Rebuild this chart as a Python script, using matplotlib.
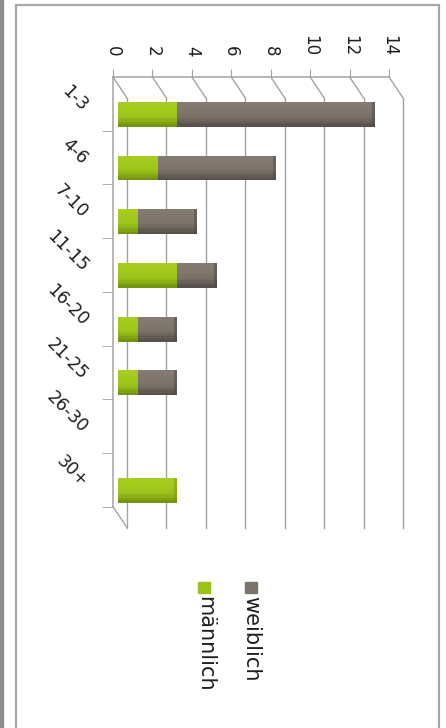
import matplotlib
matplotlib.use("Agg")
import matplotlib.pyplot as plt
from matplotlib.patches import Rectangle
from matplotlib.colors import to_rgb
import numpy as np

# Daten
categories = ["1-3", "4-6", "7-10", "11-15", "16-20", "21-25", "26-30", "30+"]
maennlich = [3, 2, 1, 3, 1, 1, 0, 3]
weiblich = [10, 6, 3, 2, 2, 2, 0, 0]
value_ticks = [0, 2, 4, 6, 8, 10, 12, 14]

W, H = 446, 728
fig = plt.figure(figsize=(W / 100, H / 100), dpi=100)
fig.patch.set_facecolor("white")


def fx(px):
    return px / W


def fy(py):
    return 1 - py / H


# rahmen
fig.patches.append(Rectangle((0, 0), fx(3), 1, transform=fig.transFigure,
                             color="#8c8c8c", zorder=0))
fig.patches.append(Rectangle((fx(16), fy(745)), fx(439 - 16), (745 - 5) / H,
                             transform=fig.transFigure, fill=False,
                             ec="#a8a8a8", lw=1.6, zorder=0))

# geometrie (pseudo 3d)
px_unit = 19.72
px_cat = 53.7
dpx, dpy = 14, 21
dx = dpx / px_unit
dy = dpy / px_cat
n = len(categories)

ax = fig.add_axes([fx(113), fy(77 + n * px_cat + dpy),
                   fx(14 * px_unit + dpx), (n * px_cat + dpy) / H])
ax.set_xlim(0, 14 + dx)
ax.set_ylim(n - 0.5 + dy, -0.5)
for s in ax.spines.values():
    s.set_visible(False)
ax.patch.set_alpha(0)

grid_c = "#a3a3a3"
txt_c = "#1e1e1e"
ax.xaxis.tick_top()
ax.set_xticks(value_ticks)
ax.set_xticklabels([str(v) for v in value_ticks])
ax.tick_params(axis="x", length=6, color=grid_c, pad=9, labelsize=12,
               labelrotation=-90, labelcolor=txt_c)

ax.set_yticks(np.arange(n) + 0.08)
ax.set_yticklabels(categories, rotation=-45, ha="right", va="center",
                   rotation_mode="anchor", fontsize=12.5, color=txt_c)
ax.tick_params(axis="y", which="major", length=0, pad=20)
ax.set_yticks(np.arange(0.5, n, 1), minor=True)
ax.tick_params(axis="y", which="minor", length=8, color=grid_c)

# achsen und gitter
ax.plot([0, 14], [-0.5, -0.5], color=grid_c, lw=1.1, clip_on=False)
ax.plot([0, 0], [-0.5, n - 0.5], color=grid_c, lw=1.1, clip_on=False)
ax.plot([0, dx], [n - 0.5, n - 0.5 + dy], color=grid_c, lw=1, clip_on=False)
for v in value_ticks:
    ax.plot([v, v + dx], [-0.5, -0.5 + dy], color=grid_c, lw=1, clip_on=False)
    ax.plot([v + dx, v + dx], [-0.5 + dy, n - 0.5 + dy], color=grid_c, lw=1,
            clip_on=False)

# balken mit weichem verlauf (oben hell, unten dunkel)
bx = 0.37 * dx
by = 0.37 * dy + 0.05
y = np.arange(n) + by
m = np.array(maennlich)
w = np.array(weiblich)
bh = 0.46
strips = 10

series = [
    (m, bx + 0 * m, "#a9cd22", "#9dc31a", "#6f8d0c"),
    (w, bx + m, "#857d73", "#7a7167", "#514c46"),
]
for vals, left, light, mid, dark in series:
    c_l, c_m, c_d = (np.array(to_rgb(c)) for c in (light, mid, dark))
    for k in range(strips):
        t = (k + 0.5) / strips
        if t < 0.6:
            col = c_l + (c_m - c_l) * (t / 0.6)
        else:
            col = c_m + (c_d - c_m) * ((t - 0.6) / 0.4)
        off = -bh / 2 + bh * (k + 0.5) / strips
        ax.barh(y + off, vals, height=bh / strips * 1.05, left=left,
                color=tuple(col), zorder=3)

# dunkleres ende am gesamtbalken
tot = m + w
has = tot > 0
ax.barh(y[has], np.full(has.sum(), 0.15), height=bh, left=bx + tot[has] - 0.15,
        color=np.where(w[has] > 0, "#4f4a44", "#7a960f"), zorder=5, alpha=0.5)

# legende
fig.patches.append(Rectangle((fx(245), fy(593)), fx(12), 11 / H,
                             transform=fig.transFigure, color="#7b746a"))
fig.text(fx(251), fy(596), "weiblich", rotation=-90, ha="center", va="top",
         fontsize=15, color=txt_c)
fig.patches.append(Rectangle((fx(198), fy(593)), fx(12), 11 / H,
                             transform=fig.transFigure, color="#9dc31a"))
fig.text(fx(205), fy(596), "männlich", rotation=-90, ha="center", va="top",
         fontsize=15, color=txt_c)

fig.savefig("out.png", dpi=100)
